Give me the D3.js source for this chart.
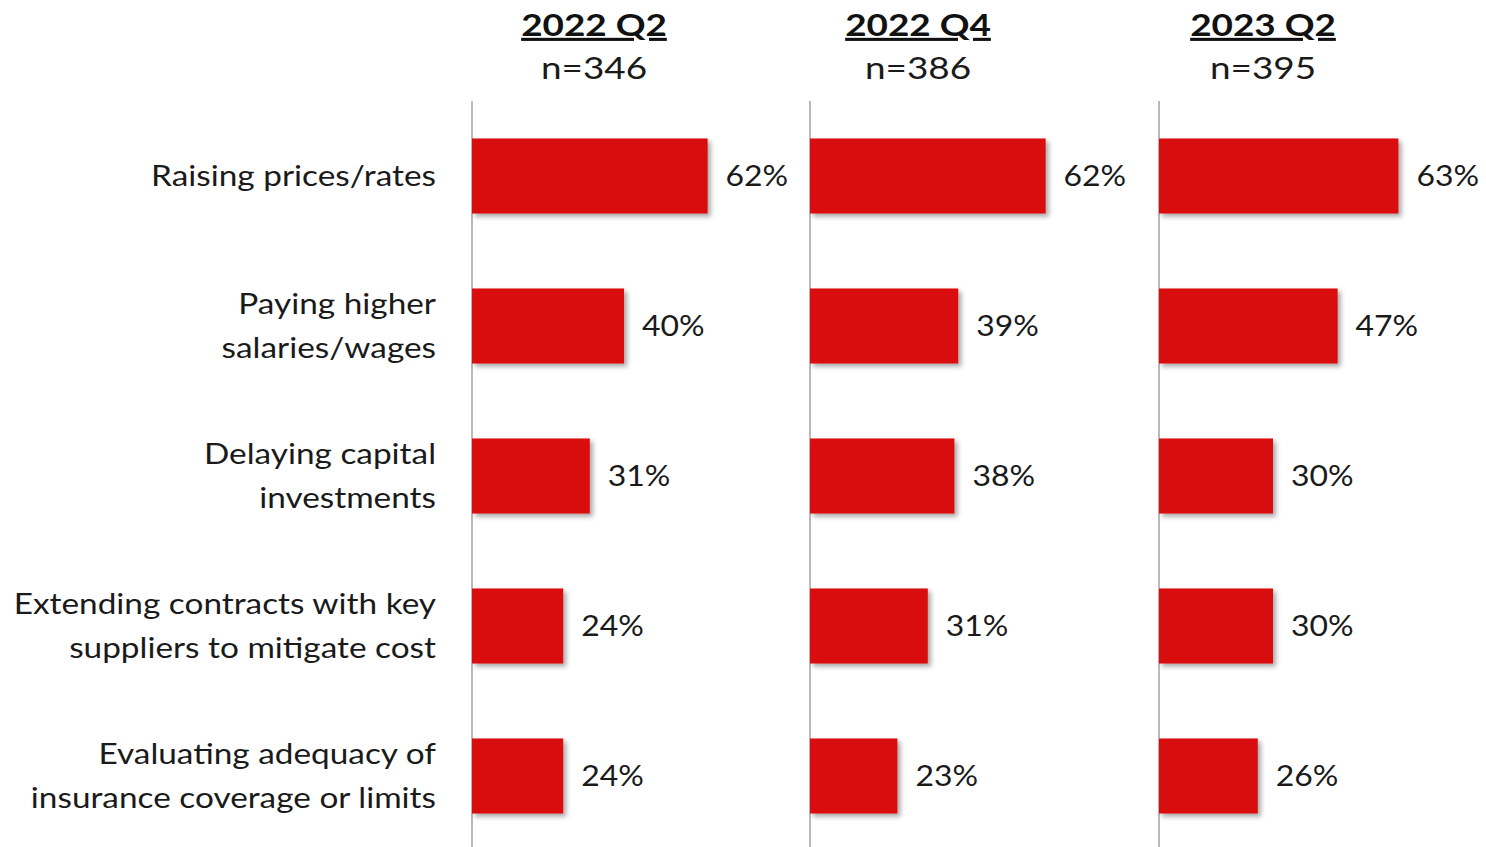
<!DOCTYPE html>
<head>
<style>
  body { margin: 0; background: #fff; }
  text { font-family: Lato, "Open Sans", sans-serif; }
</style>
</head>
<body>
<svg width="1486" height="847"></svg>
<script src="https://d3js.org/d3.v7.min.js"></script>
<script>

var categories = [
  ["Raising prices/rates"],
  ["Paying higher", "salaries/wages"],
  ["Delaying capital", "investments"],
  ["Extending contracts with key", "suppliers to mitigate cost"],
  ["Evaluating adequacy of", "insurance coverage or limits"]
];
var periods = ["2022 Q2", "2022 Q4", "2023 Q2"];
var sampleSizes = ["n=346", "n=386", "n=395"];
var q2_2022 = [62, 40, 31, 24, 24];
var q4_2022 = [62, 39, 38, 31, 23];
var q2_2023 = [63, 47, 30, 30, 26];
var series = [q2_2022, q4_2022, q2_2023];

var svg = d3.select("svg");
var sx = 1.15; // the source font runs wider than Lato

// drop shadow for bars
var f = svg.append("defs").append("filter").attr("id", "shadow")
    .attr("x", "-10%").attr("y", "-10%").attr("width", "130%").attr("height", "130%");
f.append("feDropShadow").attr("dx", 3).attr("dy", 3).attr("stdDeviation", 2.5)
    .attr("flood-color", "#000").attr("flood-opacity", 0.35);

var panelX = [472, 810, 1159];
var headCx = [594, 918, 1263];

var y = d3.scaleBand()
    .domain(d3.range(categories.length))
    .range([101, 851])
    .paddingInner(0.5)
    .paddingOuter(0.25);

var x = d3.scaleLinear().domain([0, 100]).range([0, 380]);

// category labels
var lab = svg.append("g").selectAll("text")
  .data(categories)
  .join("text")
    .attr("text-anchor", "end")
    .attr("fill", "#1a1a1a")
    .style("font-size", "29px")
    .attr("transform", function(d, i) {
      return "translate(436," + (y(i) + y.bandwidth() / 2) + ") scale(" + sx + ",1)";
    });
lab.each(function(d) {
  var t = d3.select(this), n = d.length;
  d.forEach(function(s, k) {
    t.append("tspan").attr("x", 0)
      .attr("dy", k === 0 ? ((-(n - 1) * 44 / 2) + 10) + "px" : "44px")
      .text(s);
  });
});

series.forEach(function(vals, p) {
  var g = svg.append("g").attr("transform", "translate(" + panelX[p] + ",0)");

  g.append("line")
      .attr("x1", 0).attr("x2", 0)
      .attr("y1", 101).attr("y2", 847)
      .attr("stroke", "#8c8c8c").attr("stroke-width", 1.2);

  g.selectAll("rect")
    .data(vals)
    .join("rect")
      .attr("x", 0)
      .attr("y", function(d, i) { return y(i); })
      .attr("height", y.bandwidth())
      .attr("width", function(d) { return x(d); })
      .attr("fill", "#d90909")
      .attr("filter", "url(#shadow)");

  g.selectAll("text.val")
    .data(vals)
    .join("text")
      .attr("class", "val")
      .attr("transform", function(d, i) {
        return "translate(" + (x(d) + 18) + "," + (y(i) + y.bandwidth() / 2 + 10) + ") scale(1.1,1)";
      })
      .attr("fill", "#1a1a1a")
      .style("font-size", "29px")
      .text(function(d) { return d + "%"; });

  svg.append("text")
      .attr("transform", "translate(" + headCx[p] + ",36) scale(1.19,1)")
      .attr("text-anchor", "middle")
      .attr("fill", "#111")
      .style("font-size", "31px")
      .style("font-weight", "bold")
      .style("text-decoration", "underline")
      .text(periods[p]);

  svg.append("text")
      .attr("transform", "translate(" + headCx[p] + ",79) scale(1.19,1)")
      .attr("text-anchor", "middle")
      .attr("fill", "#1a1a1a")
      .style("font-size", "31px")
      .text(sampleSizes[p]);
});

</script>
</body>
